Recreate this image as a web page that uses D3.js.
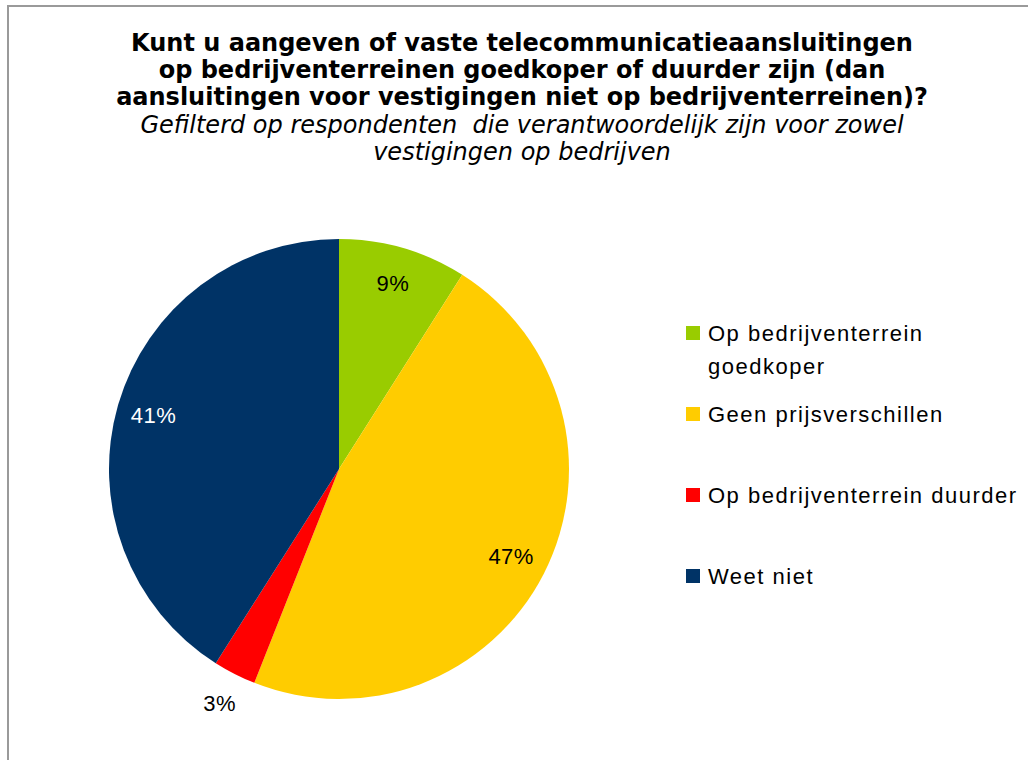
<!DOCTYPE html>
<html>
<head>
<meta charset="utf-8">
<script src="https://cdn.jsdelivr.net/npm/d3@7"></script>
<style>
  body { margin: 0; background: #fff; }
  svg { display: block; }
</style>
</head>
<body>
<svg id="chart" width="1028" height="760"></svg>
<script>
// data
const categories = ["Op bedrijventerrein goedkoper", "Geen prijsverschillen", "Op bedrijventerrein duurder", "Weet niet"];
const values = [9, 47, 3, 41];
const colors = ["#99CC00", "#FFCC00", "#FF0000", "#003366"];
const legendLines = [["Op bedrijventerrein", "goedkoper"], ["Geen prijsverschillen"], ["Op bedrijventerrein duurder"], ["Weet niet"]];
const titleLines = [
  "Kunt u aangeven of vaste telecommunicatieaansluitingen",
  "op bedrijventerreinen goedkoper of duurder zijn (dan",
  "aansluitingen voor vestigingen niet op bedrijventerreinen)?"
];
const subtitleLines = [
  "Gefilterd op respondenten  die verantwoordelijk zijn voor zowel",
  "vestigingen op bedrijven"
];

const svg = d3.select("#chart");

// chart frame (only left and top edges are visible in the crop)
svg.append("path")
  .attr("d", "M8,762 L8,6 L1030,6")
  .attr("fill", "none")
  .attr("stroke", "#9a9a9a")
  .attr("stroke-width", 2);

// title
const titleX = 522;
titleLines.forEach((line, i) => {
  svg.append("text")
    .attr("x", titleX)
    .attr("y", 51 + i * 27)
    .attr("text-anchor", "middle")
    .style("font-family", "DejaVu Sans")
    .style("font-weight", "bold")
    .style("font-size", "24px")
    .text(line);
});
subtitleLines.forEach((line, i) => {
  svg.append("text")
    .attr("x", titleX)
    .attr("y", 133 + i * 27)
    .attr("text-anchor", "middle")
    .style("font-family", "DejaVu Sans")
    .style("font-style", "italic")
    .style("font-size", "24px")
    .style("white-space", "pre")
    .text(line);
});

// pie
const cx = 339, cy = 469, radius = 230;
const pie = d3.pie().sort(null).value(d => d)(values);
const arc = d3.arc().innerRadius(0).outerRadius(radius);
const labelArc = d3.arc().innerRadius(radius * 0.84).outerRadius(radius * 0.84);
const outerLabelArc = d3.arc().innerRadius(radius + 33).outerRadius(radius + 33);

const g = svg.append("g").attr("transform", `translate(${cx},${cy})`);
g.selectAll(".slice")
  .data(pie)
  .join("path")
    .attr("class", "slice")
    .attr("d", arc)
    .attr("fill", (d, i) => colors[i]);

g.selectAll(".pct")
  .data(pie)
  .join("text")
    .attr("class", "pct")
    .attr("transform", d => {
      const c = (d.data < 5 ? outerLabelArc : labelArc).centroid(d);
      return `translate(${c[0]},${c[1]})`;
    })
    .attr("text-anchor", "middle")
    .attr("dy", "0.35em")
    .style("font-family", "Liberation Sans, Arial, sans-serif")
    .style("font-size", "22px")
    .style("letter-spacing", "0.5px")
    .style("fill", (d, i) => i === 3 ? "#fff" : "#000")
    .text(d => d.data + "%");

// legend
const legendY = [333, 414, 495, 576];
const legend = svg.append("g").attr("class", "legend");
categories.forEach((c, i) => {
  const row = legend.append("g").attr("transform", `translate(686,${legendY[i]})`);
  row.append("rect")
    .attr("x", 0).attr("y", -7)
    .attr("width", 14).attr("height", 14)
    .attr("fill", colors[i]);
  legendLines[i].forEach((line, j) => {
    row.append("text")
      .attr("x", 22)
      .attr("y", 8 + j * 33)
      .style("font-family", "Liberation Sans, Arial, sans-serif")
      .style("font-size", "22px")
      .style("letter-spacing", "1.5px")
      .text(line);
  });
});
</script>
</body>
</html>
